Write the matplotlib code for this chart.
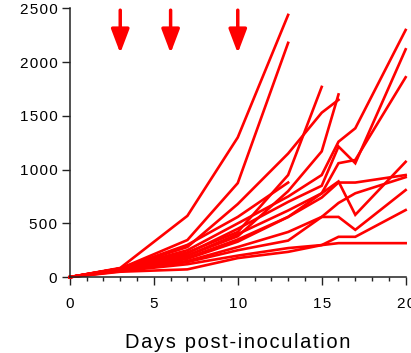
import numpy as np
import matplotlib
matplotlib.use("Agg")
import matplotlib.pyplot as plt
from matplotlib.ticker import MultipleLocator

nan = np.nan
days = [0, 3, 7, 10, 13, 15, 16, 17, 20]

s1 = [0, 85, 570, 1300, 2440, nan, nan, nan, nan]
s2 = [0, 80, 345, 875, 2180, nan, nan, nan, nan]
s3 = [0, 80, 300, 560, 880, nan, nan, nan, nan]
s4 = [0, 75, 230, 420, 950, 1770, nan, nan, nan]
s5 = [0, 80, 280, 680, 1150, 1530, 1650, nan, nan]
s6 = [0, 70, 200, 380, 800, 1170, 1700, nan, nan]
s7 = [0, 80, 250, 500, 750, 950, 1260, 1385, 2300]
s8 = [0, 75, 220, 450, 700, 850, 1215, 1060, 2120]
s9 = [0, 70, 180, 350, 560, 780, 1060, 1090, 1860]
s10 = [0, 70, 200, 400, 620, 780, 890, 580, 1073]
s11 = [0, 65, 170, 330, 560, 740, 880, 880, 950]
s12 = [0, 60, 150, 280, 420, 560, 690, 780, 930]
s13 = [0, 60, 140, 250, 340, 560, 560, 440, 810]
s14 = [0, 55, 120, 200, 270, 298, 375, 375, 624]
s15 = [0, 50, 72, 177, 235, 298, 316, 316, 316]
series = [s1, s2, s3, s4, s5, s6, s7, s8, s9, s10, s11, s12, s13, s14, s15]

arrow_days = [3, 6, 10]
arrow_top = 2484
arrow_tip = 2084

xlabel = "Days post-inoculation"
xticks = [0, 5, 10, 15, 20]
yticks = [0, 500, 1000, 1500, 2000, 2500]

plt.rcParams['font.family'] = ['Liberation Sans', 'DejaVu Sans']

def spaced(s):
    return "\u200a".join(s)

fig = plt.figure(figsize=(4.11, 3.53), dpi=100)
ax = fig.add_axes([0.170, 0.215, 0.817, 0.761])

d = np.array(days, dtype=float)
for s in series:
    y = np.array(s, dtype=float)
    m = ~np.isnan(y)
    ax.plot(d[m], y[m], color='#ff0000', lw=1.9, solid_joinstyle='miter', clip_on=False)

for ad in arrow_days:
    ax.annotate("", xy=(ad, arrow_tip), xytext=(ad, arrow_top),
                arrowprops=dict(arrowstyle='-|>,head_length=1.45,head_width=0.55',
                                lw=2.5, color='#ff0000', shrinkA=0, shrinkB=0))

ax.set_xlim(0, 20)
ax.set_ylim(0, 2500)
ax.set_xticks(xticks)
ax.set_xticklabels([spaced(str(t)) for t in xticks])
ax.set_yticks(yticks)
ax.set_yticklabels([spaced(str(t)) for t in yticks])
ax.xaxis.set_minor_locator(MultipleLocator(1))
for sp in ['top', 'right']:
    ax.spines[sp].set_visible(False)
for sp in ['left', 'bottom']:
    ax.spines[sp].set_linewidth(1.1)
    ax.spines[sp].set_color('#222222')
ax.tick_params(axis='both', which='major', direction='out', length=5.5, width=1.0,
               labelsize=11, color='#222222')
ax.tick_params(axis='x', which='major', pad=9)
ax.tick_params(axis='y', which='major', pad=3.5)
ax.tick_params(axis='x', which='minor', direction='out', length=3, width=1.0, color='#222222')
ax.set_xlabel(spaced(xlabel), fontsize=14.5, labelpad=16)

fig.savefig("out.png", dpi=100)
